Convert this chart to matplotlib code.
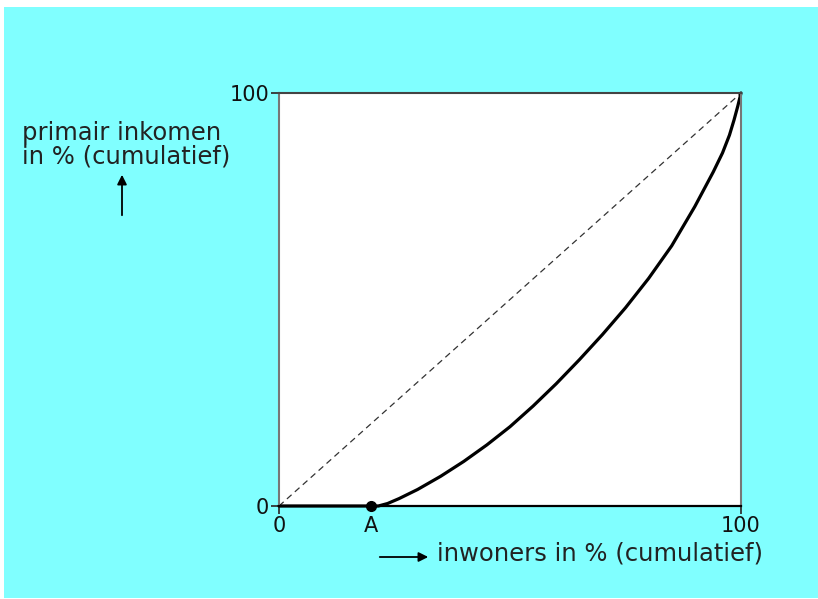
import matplotlib
matplotlib.use('Agg')
import matplotlib.pyplot as plt
from matplotlib.patches import Rectangle, FancyArrowPatch

# cumulative % of inhabitants vs cumulative % of primary income
lorenz_x = [0, 20, 21.5, 23.5, 26, 30, 35, 40, 45, 50, 55, 60, 65, 70, 75, 80, 85, 90,
            94, 96, 97.5, 98.5, 99.3, 100]
lorenz_y = [0, 0, 0, 0.6, 1.8, 4.0, 7.2, 10.8, 14.8, 19.2, 24.2, 29.6, 35.4, 41.5, 48.0,
            55.1, 63.0, 72.5, 80.9, 85.5, 89.8, 93.5, 96.8, 100]
equal_x = [0, 100]
equal_y = [0, 100]
point_a = 20

W, H = 818, 599
fig = plt.figure(figsize=(W / 100, H / 100), dpi=100, facecolor='white')
plt.rcParams['font.family'] = ['DejaVu Sans']

# cyan panel behind everything
fig.patches.append(Rectangle((4 / W, 1 / H), 1 - 4 / W, 591 / H, transform=fig.transFigure,
                             facecolor='#80ffff', edgecolor='none', zorder=-10))

ax = fig.add_axes([279 / W, 1 - 506 / H, 462 / W, 413 / H])
ax.set_facecolor('white')
ax.set_xlim(0, 100)
ax.set_ylim(0, 100)

ax.plot(equal_x, equal_y, color='#333333', lw=0.9, dashes=(5, 3.5))
ax.plot(lorenz_x, lorenz_y, color='black', lw=2.3, solid_capstyle='round',
        solid_joinstyle='round', clip_on=False)
ax.plot([point_a], [0], 'o', color='black', ms=7, clip_on=False, zorder=5)

for side in ['left', 'right', 'top']:
    ax.spines[side].set_color('#777777')
    ax.spines[side].set_linewidth(1.5)
ax.spines['top'].set_color('#444444')
ax.spines['bottom'].set_color('black')
ax.spines['bottom'].set_linewidth(1.6)

ax.set_xticks([0, 100])
ax.set_yticks([0, 100])
ax.set_xticklabels(['0', '100'])
ax.set_yticklabels(['0', '100'])
ax.tick_params(axis='both', length=6, width=1.3, color='#333333', labelsize=15,
               labelcolor='#111111', pad=1)

ax.text(point_a, -2.5, 'A', ha='center', va='top', fontsize=15, color='#111111',
        clip_on=False)

# axis labels with arrows
fig.text(22 / W, 1 - 145 / H, 'primair inkomen\nin % (cumulatief)', ha='left', va='center',
         fontsize=17.5, color='#222222', linespacing=0.95)
fig.text(437 / W, 1 - 553 / H, 'inwoners in % (cumulatief)', ha='left', va='center',
         fontsize=17.5, color='#222222')
fig.add_artist(FancyArrowPatch(
    (122 / W, 1 - 218 / H), (122 / W, 1 - 172 / H), transform=fig.transFigure,
    arrowstyle='-|>', mutation_scale=14, color='black', lw=1.3))
fig.add_artist(FancyArrowPatch(
    (377 / W, 1 - 557 / H), (431 / W, 1 - 557 / H), transform=fig.transFigure,
    arrowstyle='-|>', mutation_scale=14, color='black', lw=1.3))

fig.savefig('out.png', dpi=100, facecolor=fig.get_facecolor())
